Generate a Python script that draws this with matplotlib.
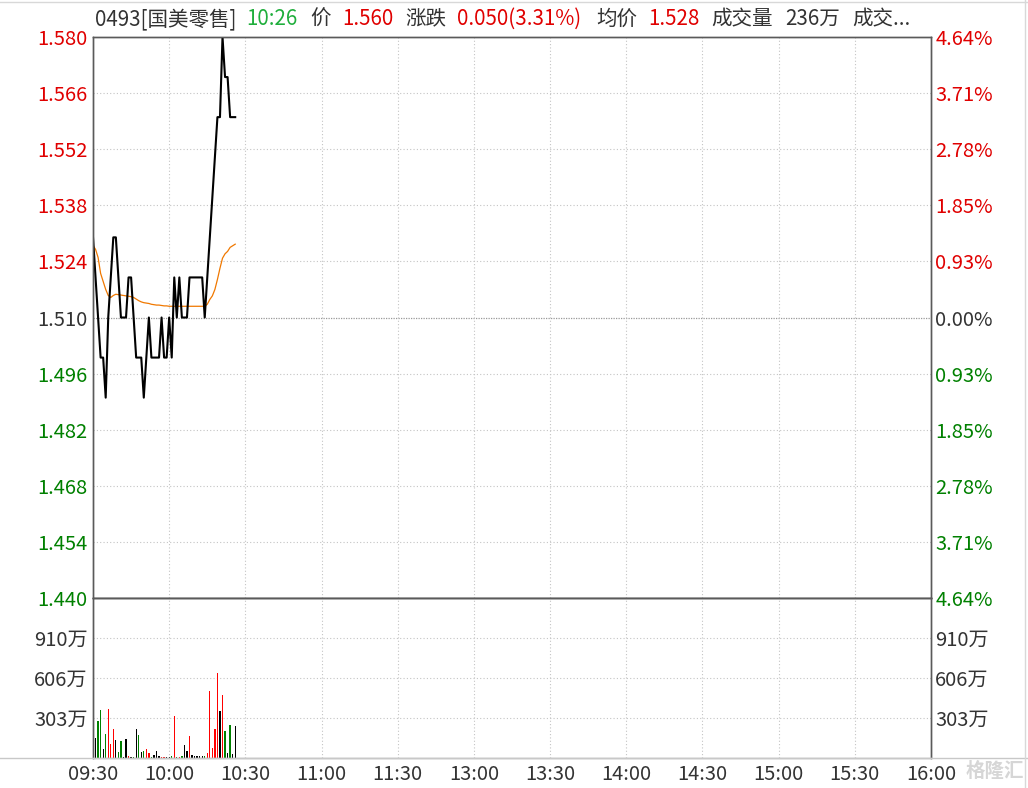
import matplotlib
matplotlib.use("Agg")
import matplotlib.pyplot as plt
from matplotlib.lines import Line2D

plt.rcParams['font.family'] = ['Noto Sans CJK SC', 'DejaVu Sans']

# minute index counted from 09:30 (trading minutes)
minutes = list(range(57))
price = [1.53, 1.52, 1.51, 1.50, 1.50, 1.49, 1.51, 1.52, 1.53, 1.53,
         1.52, 1.51, 1.51, 1.51, 1.52, 1.52, 1.51, 1.50, 1.50, 1.50,
         1.49, 1.50, 1.51, 1.50, 1.50, 1.50, 1.50, 1.51, 1.50, 1.50,
         1.51, 1.50, 1.52, 1.51, 1.52, 1.51, 1.51, 1.51, 1.52, 1.52,
         1.52, 1.52, 1.52, 1.52, 1.51, 1.52, 1.53, 1.54, 1.55, 1.56,
         1.56, 1.58, 1.57, 1.57, 1.56, 1.56, 1.56]
avg_price = [1.528, 1.527, 1.525, 1.521, 1.519, 1.517, 1.5155, 1.515, 1.5155, 1.5158,
             1.5157, 1.5156, 1.5155, 1.5154, 1.5153, 1.5152, 1.5150, 1.5146, 1.5142, 1.5139,
             1.5137, 1.5136, 1.5135, 1.5133, 1.5132, 1.5131, 1.5131, 1.5130, 1.5129, 1.5129,
             1.5128, 1.5128, 1.5128, 1.5128, 1.5128, 1.5128, 1.5128, 1.5128, 1.5128, 1.5128,
             1.5128, 1.5128, 1.5128, 1.5128, 1.5128, 1.5133, 1.5145, 1.5154, 1.5170, 1.5195,
             1.5223, 1.5248, 1.5259, 1.5265, 1.5275, 1.5279, 1.5283]
# volume in 万 shares, and bar colour code per minute
volume = [1213, 151, 278, 361, 66, 182, 369, 104, 217, 134,
          43, 126, 5, 141, 13, 5, 5, 217, 172, 43,
          50, 66, 35, 5, 20, 50, 8, 5, 5, 5,
          5, 8, 316, 5, 5, 8, 96, 50, 164, 20,
          15, 8, 13, 8, 8, 35, 505, 76, 220, 644,
          356, 475, 205, 38, 250, 30, 236]
vol_dir = ['r', 'k', 'g', 'g', 'k', 'g', 'r', 'r', 'r', 'k',
           'g', 'g', 'k', 'k', 'r', 'k', 'g', 'k', 'g', 'k',
           'g', 'r', 'r', 'g', 'k', 'k', 'k', 'r', 'r', 'k',
           'k', 'g', 'r', 'g', 'r', 'g', 'k', 'k', 'r', 'k',
           'k', 'k', 'k', 'k', 'g', 'r', 'r', 'r', 'r', 'r',
           'k', 'r', 'g', 'k', 'g', 'k', 'k']

prev_close = 1.510
time_ticks = [0, 30, 60, 90, 120, 150, 180, 210, 240, 270, 300, 330]
time_labels = ['09:30', '10:00', '10:30', '11:00', '11:30', '13:00',
               '13:30', '14:00', '14:30', '15:00', '15:30', '16:00']
price_ticks = [1.580, 1.566, 1.552, 1.538, 1.524, 1.510,
               1.496, 1.482, 1.468, 1.454, 1.440]
pct_labels = ['4.64%', '3.71%', '2.78%', '1.85%', '0.93%', '0.00%',
              '0.93%', '1.85%', '2.78%', '3.71%', '4.64%']
vol_ticks = [303, 606, 910]
vol_labels = ['303万', '606万', '910万']

RED = '#e00000'
GREEN = '#008000'
DARK = '#333333'
SPINE = '#5a5a5a'
GRID = '#c4c4c4'
bar_colors = {'r': '#ff0000', 'g': '#008000', 'k': '#000000'}

W, H = 1028, 788
fig = plt.figure(figsize=(W / 100, H / 100), dpi=100)
left, right = 93, 931
ptop, pbot, vbot = 37, 598, 757.5
ax = fig.add_axes([left / W, 1 - pbot / H, (right - left) / W, (pbot - ptop) / H])
axv = fig.add_axes([left / W, 1 - vbot / H, (right - left) / W, (vbot - pbot) / H], sharex=ax)

fs = 14.5
dot = (0, (1, 2))

# price pane
ax.plot(minutes, avg_price, color='#f07800', lw=0.9, zorder=3)
ax.plot(minutes, price, color='black', lw=1.5, zorder=4)
ax.set_xlim(0, 330)
ax.set_ylim(1.440, 1.580)
ax.set_yticks(price_ticks)
ax.set_yticklabels(['%.3f' % p for p in price_ticks])
ax.set_xticks(time_ticks)
ax.tick_params(axis='x', labelbottom=False, length=0)
ax.tick_params(axis='y', length=0, pad=4, labelsize=fs)
for p in price_ticks[1:-1]:
    if p == prev_close:
        ax.axhline(p, color='#999999', lw=0.9, ls=(0, (1, 1)), zorder=1)
    else:
        ax.axhline(p, color=GRID, lw=0.8, ls=dot, zorder=1)
for t in time_ticks[1:-1]:
    ax.axvline(t, color=GRID, lw=0.8, ls=dot, zorder=1)

def colour_for(p):
    if p > prev_close + 1e-9:
        return RED
    if p < prev_close - 1e-9:
        return GREEN
    return DARK

for lab, p in zip(ax.get_yticklabels(), price_ticks):
    lab.set_color(colour_for(p))

ax2 = ax.twinx()
ax2.set_ylim(ax.get_ylim())
ax2.set_yticks(price_ticks)
ax2.set_yticklabels(pct_labels)
ax2.tick_params(axis='y', length=0, pad=3, labelsize=fs)
for lab, p in zip(ax2.get_yticklabels(), price_ticks):
    lab.set_color(colour_for(p))

for a in (ax, ax2):
    for s in a.spines.values():
        s.set_color(SPINE)
        s.set_linewidth(1.0)

# volume pane
bars = axv.bar(minutes, volume, width=0.5,
               color=[bar_colors[d] for d in vol_dir], zorder=3)
axv.set_ylim(0, 1213)
axv.set_yticks(vol_ticks)
axv.set_yticklabels(vol_labels)
axv.tick_params(axis='y', length=0, pad=4, labelsize=fs, labelcolor=DARK)
axv.set_xticks(time_ticks)
axv.set_xticklabels(time_labels)
axv.tick_params(axis='x', length=0, pad=5, labelsize=fs, labelcolor=DARK)
for v in vol_ticks:
    axv.axhline(v, color=GRID, lw=0.8, ls=dot, zorder=1)
for t in time_ticks[1:-1]:
    axv.axvline(t, color=GRID, lw=0.8, ls=dot, zorder=1)

axv2 = axv.twinx()
axv2.set_ylim(axv.get_ylim())
axv2.set_yticks(vol_ticks)
axv2.set_yticklabels(vol_labels)
axv2.tick_params(axis='y', length=0, pad=3, labelsize=fs, labelcolor=DARK)

for a in (axv, axv2):
    for s in a.spines.values():
        s.set_color(SPINE)
        s.set_linewidth(1.0)
    a.spines['bottom'].set_color('#c8c8c8')

# outer frame lines
fig.add_artist(Line2D([0, 1], [1 - 758 / H, 1 - 758 / H], color='#c8c8c8', lw=1.0))
fig.add_artist(Line2D([0, 1], [1 - 2 / H, 1 - 2 / H], color='#d8d8d8', lw=1.0))
fig.add_artist(Line2D([1 - 3 / W, 1 - 3 / W], [0, 1], color='#d8d8d8', lw=1.0))

# header
yh = 1 - 19 / H
header = [
    (95, '0493[国美零售]', DARK),
    (246, '10:26', '#1fae3c'),
    (310, '价', DARK),
    (342, '1.560', RED),
    (405, '涨跌', DARK),
    (457, '0.050(3.31%)', RED),
    (596, '均价', DARK),
    (648, '1.528', RED),
    (711, '成交量', DARK),
    (785, '236万', DARK),
    (852, '成交...', DARK),
]
for x, s, c in header:
    fig.text(x / W, yh, s, color=c, fontsize=14.8, ha='left', va='center')

# watermark
fig.text(995 / W, 1 - 771 / H, '格隆汇', color='#d6d6d6', fontsize=14,
         ha='center', va='center', fontweight='bold')

plt.savefig("out.png", dpi=100)
